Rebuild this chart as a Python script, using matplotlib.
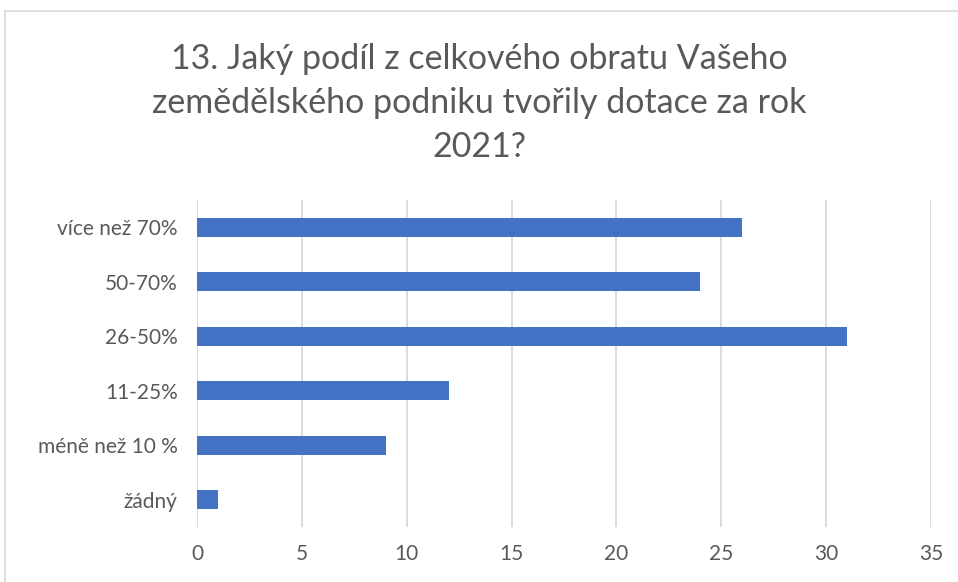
import matplotlib.pyplot as plt
from matplotlib.patches import Rectangle

# data
categories = ['žádný', 'méně než 10 %', '11-25%', '26-50%', '50-70%', 'více než 70%']
values = [1, 9, 12, 31, 24, 26]
ticks = [0, 5, 10, 15, 20, 25, 30, 35]

plt.rcParams['font.family'] = ['Lato', 'DejaVu Sans']

fig = plt.figure(figsize=(9.58, 5.82), dpi=100)
ax = fig.add_axes([0.2056, 0.0945, 0.9718 - 0.2056, 0.6564 - 0.0945])

# chart frame (right and bottom edges run off the picture)
fig.patches.append(Rectangle((5 / 958, -0.1), 1.2, 1 - 11 / 582 + 0.1,
                             transform=fig.transFigure, fill=False,
                             edgecolor='#d9d9d9', linewidth=1.2))

ax.barh(range(len(categories)), values, height=0.35, color='#4472C4')
ax.set_yticks(range(len(categories)))
ax.set_yticklabels(categories)
ax.set_ylim(-0.5, len(categories) - 0.5)
ax.set_xlim(0, 35)
ax.set_xticks(ticks)

ax.grid(axis='x', color='#d9d9d9', linewidth=1.3)
ax.set_axisbelow(True)
for s in ax.spines.values():
    s.set_visible(False)
ax.tick_params(length=0, labelsize=15, labelcolor='#595959')
ax.tick_params(axis='x', pad=12)
ax.tick_params(axis='y', pad=14)

fig.text(0.5, 0.823, '13. Jaký podíl z celkového obratu Vašeho\nzemědělského podniku tvořily dotace za rok\n2021?',
         ha='center', va='center', fontsize=24.5, color='#595959',
         linespacing=1.48)

plt.savefig('out.png', dpi=100)
